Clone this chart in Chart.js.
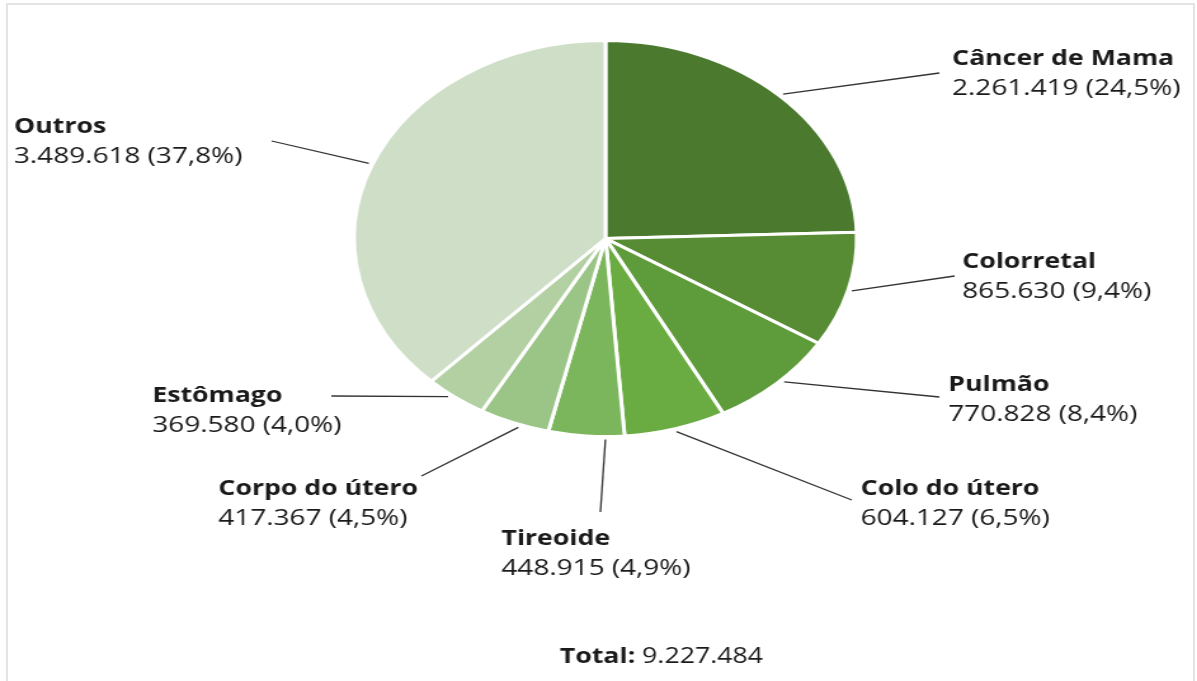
<!DOCTYPE html>
<html lang="pt-BR">
<head>
<meta charset="utf-8">
<title>Casos de câncer</title>
<script src="https://cdn.jsdelivr.net/npm/chart.js@4.4.1/dist/chart.umd.min.js"></script>
<style>
  html, body { margin: 0; padding: 0; background: #fff; }
  body { width: 1197px; height: 681px; overflow: hidden; position: relative; }
  #moldura { position: absolute; left: 6px; top: 3px; width: 1185px; height: 700px; border: 2px solid #e4e4e4; border-bottom: none; }
  /* o gráfico original é esticado na horizontal */
  #palco { position: absolute; left: 0; top: 0; width: 943px; height: 681px; transform: scaleX(1.2694); transform-origin: 0 0; }
</style>
</head>
<body>
<div id="moldura"></div>
<div id="palco"><canvas id="graficoCancer"></canvas></div>
<script>
const categorias = ['Câncer de Mama', 'Colorretal', 'Pulmão', 'Colo do útero', 'Tireoide', 'Corpo do útero', 'Estômago', 'Outros'];
const casos = [2261419, 865630, 770828, 604127, 448915, 417367, 369580, 3489618];
const cores = ['#4b7a2f', '#578c35', '#5e9b3a', '#6aab42', '#7bb55c', '#9bc487', '#b2d0a2', '#cfdfc7'];

// posição dos rótulos: texto (tx, ty = linha de base do nome), fim da linha guia (ex, ey)
// "at" = fração do ângulo da fatia onde a linha guia começa
const rotulos = [
	{ tx: 750, ty: 65,  ex: 740, ey: 73,  at: 0.5 },
	{ tx: 758, ty: 268, ex: 752, ey: 276, at: 0.5 },
	{ tx: 747, ty: 391, ex: 740, ey: 397, at: 0.45 },
	{ tx: 678, ty: 495, ex: 671, ey: 500, at: 0.5 },
	{ tx: 395, ty: 545, ex: 473, ey: 512, at: 0.25 },
	{ tx: 172, ty: 495, ex: 332, ey: 476, at: 0.42 },
	{ tx: 120, ty: 402, ex: 261, ey: 396, at: 0.6 },
	{ tx: 11,  ty: 133, ex: 214, ey: 141, at: 0.5 }
];

const total = casos.reduce((a, b) => a + b, 0);

function milhar(n) {
	return String(n).replace(/\B(?=(\d{3})+(?!\d))/g, '.');
}

function pct(n) {
	return (n / total * 100).toFixed(1).replace('.', ',') + '%';
}

const rotulosPlugin = {
	id: 'rotulosPizza',
	afterDatasetsDraw(chart) {
		const ctx = chart.ctx;
		const meta = chart.getDatasetMeta(0);
		ctx.save();
		meta.data.forEach((arc, i) => {
			const p = arc.getProps(['x', 'y', 'startAngle', 'endAngle', 'outerRadius'], true);
			const r = rotulos[i];
			const ang = p.startAngle + (p.endAngle - p.startAngle) * r.at;
			const sx = p.x + Math.cos(ang) * (p.outerRadius + 3);
			const sy = p.y + Math.sin(ang) * (p.outerRadius + 3);

			ctx.strokeStyle = '#333';
			ctx.lineWidth = 1.3;
			ctx.beginPath();
			ctx.moveTo(sx, sy);
			ctx.lineTo(r.ex, r.ey);
			ctx.stroke();

			ctx.fillStyle = '#1a1a1a';
			ctx.textAlign = 'left';
			ctx.textBaseline = 'alphabetic';
			ctx.font = 'bold 21px "Open Sans"';
			ctx.fillText(categorias[i], r.tx, r.ty);
			ctx.font = '22px "Open Sans"';
			ctx.fillText(milhar(casos[i]) + ' (' + pct(casos[i]) + ')', r.tx, r.ty + 30);
		});

		// total no rodapé
		const rotuloTotal = 'Total:';
		const valorTotal = ' ' + milhar(total);
		ctx.font = 'bold 21px "Open Sans"';
		const w1 = ctx.measureText(rotuloTotal).width;
		ctx.font = '21px "Open Sans"';
		const w2 = ctx.measureText(valorTotal).width;
		const x0 = 521 - (w1 + w2) / 2;
		ctx.font = 'bold 21px "Open Sans"';
		ctx.fillText(rotuloTotal, x0, 663);
		ctx.font = '21px "Open Sans"';
		ctx.fillText(valorTotal, x0 + w1, 663);
		ctx.restore();
	}
};

new Chart(document.getElementById('graficoCancer'), {
	type: 'pie',
	data: {
		labels: categorias,
		datasets: [{
			data: casos,
			backgroundColor: cores,
			borderColor: '#ffffff',
			borderWidth: 3,
			radius: 198
		}]
	},
	options: {
		responsive: true,
		maintainAspectRatio: false,
		animation: false,
		events: [],
		layout: {
			padding: { left: 279, right: 268, top: 40, bottom: 244 }
		},
		plugins: {
			legend: { display: false },
			tooltip: { enabled: false }
		}
	},
	plugins: [rotulosPlugin]
});
</script>
</body>
</html>
